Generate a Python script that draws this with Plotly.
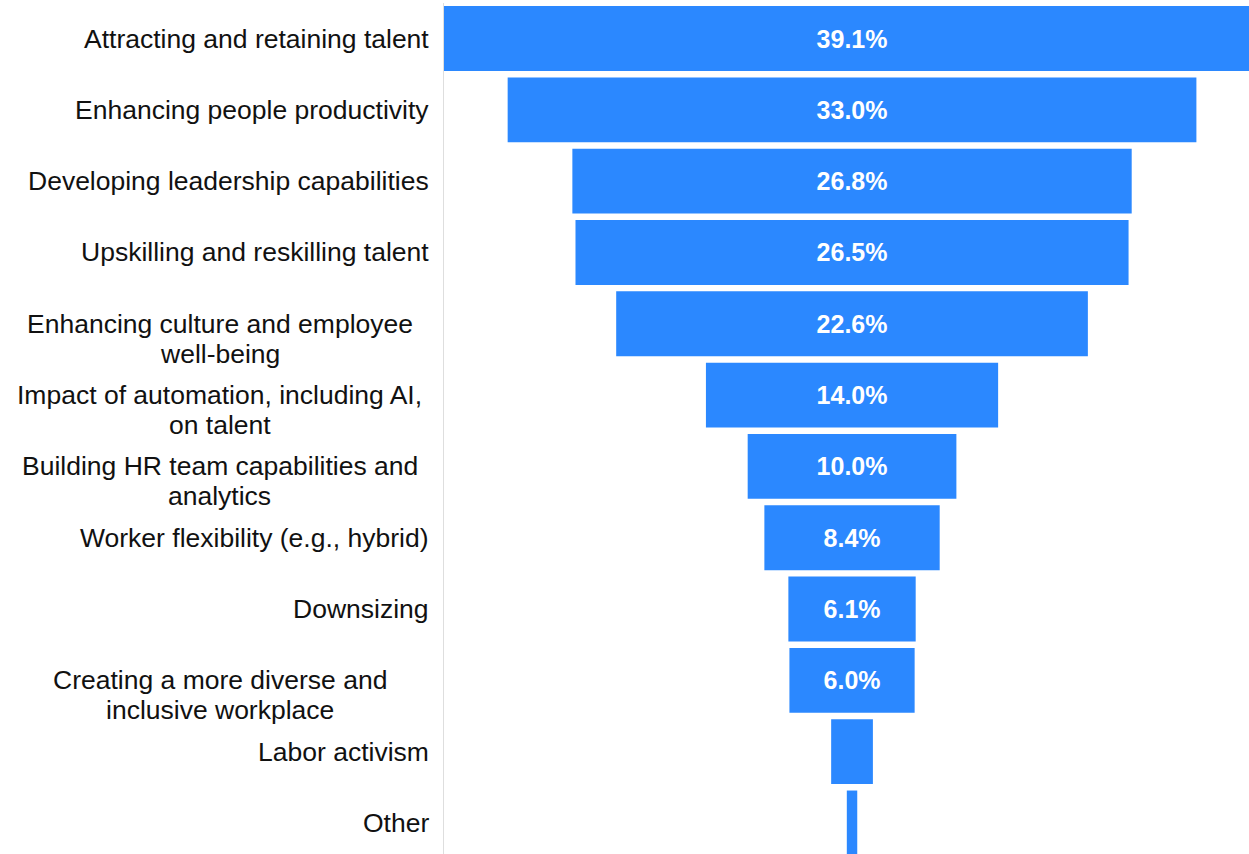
import plotly.graph_objects as go

# Share of respondents naming each priority (%)
categories = [
    "Attracting and retaining talent",
    "Enhancing people productivity",
    "Developing leadership capabilities",
    "Upskilling and reskilling talent",
    "Enhancing culture and employee well-being",
    "Impact of automation, including AI, on talent",
    "Building HR team capabilities and analytics",
    "Worker flexibility (e.g., hybrid)",
    "Downsizing",
    "Creating a more diverse and inclusive workplace",
    "Labor activism",
    "Other",
]
values = [39.1, 33.0, 26.8, 26.5, 22.6, 14.0, 10.0, 8.4, 6.1, 6.0, 2.0, 0.5]

# Display lines for the category labels (wrapped ones are centred blocks)
display_lines = [
    ["Attracting and retaining talent"],
    ["Enhancing people productivity"],
    ["Developing leadership capabilities"],
    ["Upskilling and reskilling talent"],
    ["Enhancing culture and employee", "well-being"],
    ["Impact of automation, including AI,", "on talent"],
    ["Building HR team capabilities and", "analytics"],
    ["Worker flexibility (e.g., hybrid)"],
    ["Downsizing"],
    ["Creating a more diverse and", "inclusive workplace"],
    ["Labor activism"],
    ["Other"],
]

bar_text = [f"<b>{v:.1f}%</b>" if v >= 5 else "" for v in values]

FONT = "Liberation Sans, Arial, sans-serif"
LABEL_SIZE = 26.5
LINE_STEP = 30

fig = go.Figure(
    go.Funnel(
        y=categories,
        x=values,
        text=bar_text,
        textinfo="text",
        textposition="inside",
        insidetextanchor="middle",
        textfont=dict(family=FONT, size=25, color="white"),
        marker=dict(color="#2B88FF", line=dict(width=0)),
        connector=dict(visible=False),
        hoverinfo="skip",
    )
)

annotations = []
for cat, lines in zip(categories, display_lines):
    if len(lines) > 1:
        for i, line in enumerate(lines):
            annotations.append(dict(
                x=-0.2783, xref="paper", xanchor="center",
                y=cat, yref="y", yanchor="middle", yshift=-LINE_STEP * i,
                text=line, align="center", showarrow=False,
                font=dict(family=FONT, size=LABEL_SIZE, color="#111111"),
            ))
    else:
        annotations.append(dict(
            x=-0.0162, xref="paper", xanchor="right",
            y=cat, yref="y", yanchor="middle",
            text=lines[0], align="right", showarrow=False,
            font=dict(family=FONT, size=LABEL_SIZE, color="#111111"),
        ))

fig.update_layout(
    width=1249,
    height=854,
    margin=dict(l=444, r=0, t=3, b=0),
    paper_bgcolor="white",
    plot_bgcolor="white",
    funnelgap=0.09,
    showlegend=False,
    annotations=annotations,
    xaxis=dict(range=[-19.55, 19.02], visible=False, fixedrange=True),
    yaxis=dict(
        range=[11.435, -0.498],
        showticklabels=False,
        ticks="",
        showgrid=False,
        zeroline=False,
        showline=True,
        linecolor="#dedede",
        linewidth=1,
        fixedrange=True,
    ),
)

fig.write_html("out.html", config={"displayModeBar": False})
